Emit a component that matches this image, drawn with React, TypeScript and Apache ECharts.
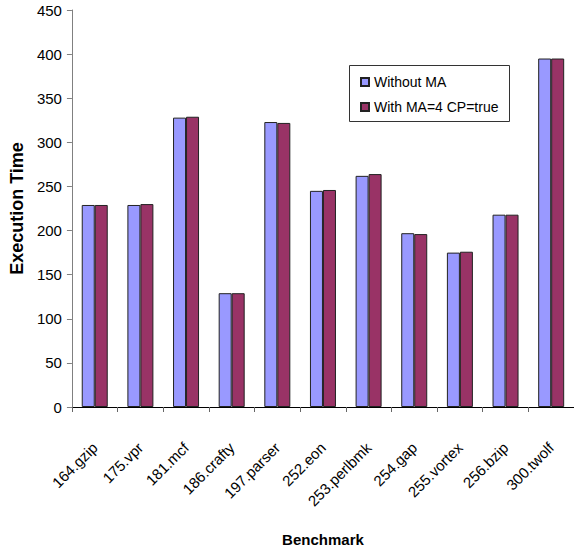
import React, { useEffect, useRef } from "react";
import * as echarts from "echarts";

const benchmarks = [
  "164.gzip",
  "175.vpr",
  "181.mcf",
  "186.crafty",
  "197.parser",
  "252.eon",
  "253.perlbmk",
  "254.gap",
  "255.vortex",
  "256.bzip",
  "300.twolf",
];

const withoutMA = [229, 229, 328, 129, 323, 245, 262, 197, 175, 218, 395];
const withMA4CP = [229, 230, 329, 129, 322, 246, 264, 196, 176, 218, 395];

const seriesNames = ["Without MA", "With MA=4 CP=true"];
const yTicks = { min: 0, max: 450, interval: 50 };

const FONT = "'Liberation Sans', Arial, Helvetica, sans-serif";

export default function App() {
  const ref = useRef<HTMLDivElement>(null);

  useEffect(() => {
    if (!ref.current) return;
    const chart = echarts.init(ref.current, undefined, { renderer: "svg" });
    chart.setOption({
      animation: false,
      backgroundColor: "#ffffff",
      textStyle: { fontFamily: FONT, color: "#000" },
      grid: { left: 70, top: 10, bottom: 145, width: 506, containLabel: false },
      graphic: [
        {
          type: "rect",
          left: 349,
          top: 65,
          z: 0,
          shape: { width: 160, height: 56 },
          style: { fill: "#ffffff", stroke: "#333333", lineWidth: 1 },
        },
      ],
      legend: {
        orient: "vertical",
        left: 360,
        top: 75,
        z: 10,
        itemWidth: 8,
        itemHeight: 8,
        itemGap: 11,
        icon: "rect",
        padding: 0,
        textStyle: { fontFamily: FONT, fontSize: 14, color: "#000", lineHeight: 14 },
        data: seriesNames,
      },
      xAxis: {
        type: "category",
        data: benchmarks,
        name: "Benchmark",
        nameLocation: "middle",
        nameGap: 125,
        nameTextStyle: { fontFamily: FONT, fontSize: 15, fontWeight: "bold", color: "#000" },
        axisLine: { show: true, lineStyle: { color: "#000", width: 1 } },
        axisTick: { show: true, length: 5, lineStyle: { color: "#666" } },
        axisLabel: {
          rotate: 45,
          margin: 38,
          fontFamily: FONT,
          fontSize: 15,
          color: "#000",
          interval: 0,
        },
        splitLine: { show: false },
      },
      yAxis: {
        type: "value",
        min: yTicks.min,
        max: yTicks.max,
        interval: yTicks.interval,
        name: "Execution Time",
        nameLocation: "middle",
        nameGap: 44,
        nameTextStyle: { fontFamily: FONT, fontSize: 18, fontWeight: "bold", color: "#000" },
        axisLine: { show: true, lineStyle: { color: "#808080", width: 1 } },
        axisTick: { show: true, inside: false, length: 5, lineStyle: { color: "#808080" } },
        axisLabel: { fontFamily: FONT, fontSize: 15, color: "#000", margin: 10 },
        splitLine: { show: false },
      },
      series: [
        {
          name: seriesNames[0],
          type: "bar",
          data: withoutMA,
          barWidth: 13,
          barGap: "0%",
          itemStyle: { color: "#9999FF", borderColor: "#222", borderWidth: 1 },
        },
        {
          name: seriesNames[1],
          type: "bar",
          data: withMA4CP,
          barWidth: 13,
          barGap: "0%",
          itemStyle: { color: "#993366", borderColor: "#222", borderWidth: 1 },
        },
      ],
    });
    return () => chart.dispose();
  }, []);

  return (
    <div
      ref={ref}
      style={{ width: 574, height: 552, position: "absolute", left: 0, top: 0 }}
    />
  );
}
